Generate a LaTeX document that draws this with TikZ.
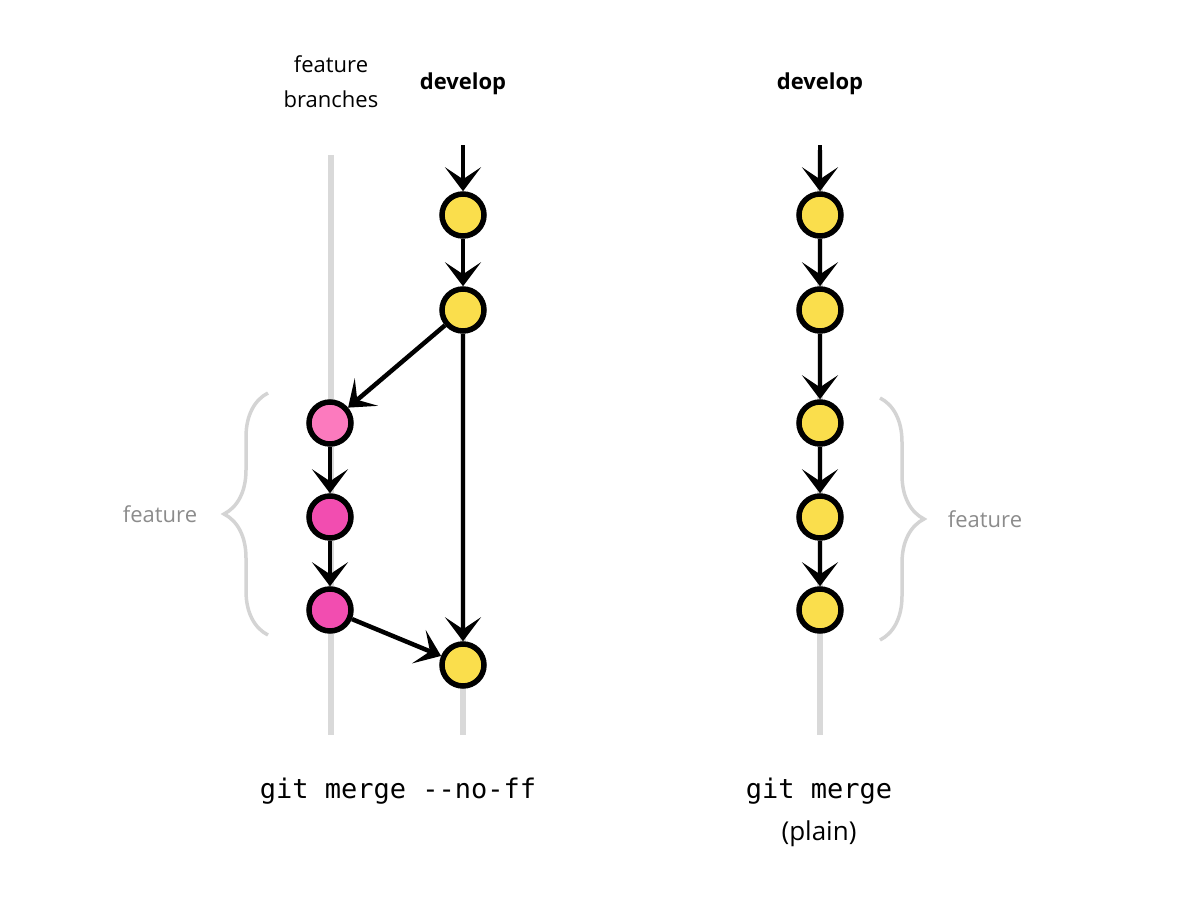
\documentclass[tikz,border=0pt]{standalone}
\usepackage{fontspec}
\setmainfont{Open Sans}
\setmonofont{DejaVu Sans Mono}
\usetikzlibrary{arrows.meta,decorations.pathreplacing}

\begin{document}
\begin{tikzpicture}[x=1pt,y=-1pt,
	commit/.style={circle,draw=black,line width=5.5pt,minimum size=42pt,inner sep=0pt},
	dev/.style={commit,fill={rgb,255:red,250;green,222;blue,76}},
	feat/.style={commit,fill={rgb,255:red,242;green,77;blue,176}},
	feat1/.style={commit,fill={rgb,255:red,252;green,122;blue,190}},
	flow/.style={line width=4.5pt,-{Stealth[length=24pt,width=36pt,inset=12pt]}},
	lane/.style={line width=6pt,color=black!15},
	gbrace/.style={line width=3.5pt,color=black!17,decorate,decoration={brace,amplitude=44pt,aspect=0.5}},
	lbl/.style={font=\fontsize{22}{35}\selectfont},
	note/.style={font=\fontsize{22}{26}\selectfont,text=black!45},
	cmd/.style={font=\ttfamily\fontsize{27}{32}\selectfont}]
	\useasboundingbox (0,0) rectangle (1192,900);

	% lanes
	\draw[lane] (331,155) -- (331,735);
	\draw[lane] (463,300) -- (463,735);
	\draw[lane] (820,150) -- (820,735);

	% headings
	\node[lbl,align=center] (fb) at (331,82) {feature\\branches};
	\node[lbl,font=\bfseries\fontsize{22}{26}\selectfont] (devl) at (463,84) {develop};
	\node[lbl,font=\bfseries\fontsize{22}{26}\selectfont] (devr) at (820,84) {develop};

	% git merge --no-ff
	\coordinate (ltop) at (463,145);
	\node[dev] (a) at (463,215) {};
	\node[dev] (b) at (463,310) {};
	\node[feat1] (f1) at (330,423) {};
	\node[feat] (f2) at (330,517) {};
	\node[feat] (f3) at (330,610) {};
	\node[dev] (m) at (463,665) {};
	\draw[flow] (ltop) -- (a);
	\draw[flow] (a) -- (b);
	\draw[flow] (b) -- (f1);
	\draw[flow] (f1) -- (f2);
	\draw[flow] (f2) -- (f3);
	\draw[flow] (f3) -- (m);
	\draw[flow] (b) -- (m);

	% git merge (plain)
	\coordinate (rtop) at (820,145);
	\node[dev] (r1) at (820,215) {};
	\node[dev] (r2) at (820,310) {};
	\node[dev] (r3) at (820,423) {};
	\node[dev] (r4) at (820,517) {};
	\node[dev] (r5) at (820,610) {};
	\draw[flow] (rtop) -- (r1);
	\draw[flow] (r1) -- (r2);
	\draw[flow] (r2) -- (r3);
	\draw[flow] (r3) -- (r4);
	\draw[flow] (r4) -- (r5);

	% braces
	\draw[gbrace] (268,635) -- (268,393);
	\node[note] (fl) at (160,514) {feature};
	\draw[gbrace] (880,398) -- (880,640);
	\node[note] (fr) at (985,519) {feature};

	% captions
	\node[cmd] (c1) at (398,791) {git merge -{}-no-ff};
	\node[cmd] (c2) at (819,791) {git merge};
	\node[lbl,font=\fontsize{26}{30}\selectfont] (c3) at (819,834) {(plain)};
\end{tikzpicture}
\end{document}
